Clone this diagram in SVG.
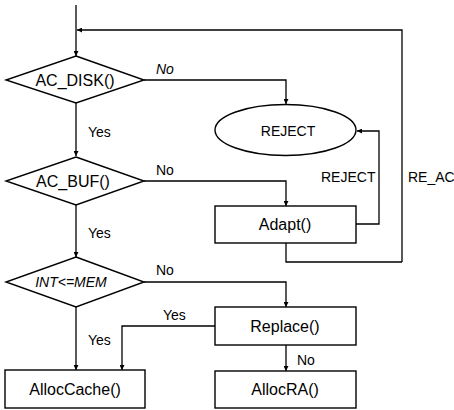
<svg xmlns="http://www.w3.org/2000/svg" width="454" height="410" viewBox="0 0 454 410">
<style>
.s{fill:#fff;stroke:#000;stroke-width:1.4}
.c{fill:none;stroke:#000;stroke-width:1.3}
text{font-family:"Liberation Sans",Arial,sans-serif;fill:#000}
.n{font-size:16px;text-anchor:middle}
.l{font-size:14px}
</style>
<defs>
<marker id="a" viewBox="0 0 10 10" refX="10" refY="5" markerWidth="5" markerHeight="5" orient="auto" markerUnits="userSpaceOnUse">
<path d="M0,0L10,5L0,10z" fill="#000"/>
</marker>
</defs>
<g id="connectors">
<path class="c" d="M76,5V56" marker-end="url(#a)"/>
<path class="c" d="M402,262V30H77" marker-end="url(#a)"/>
<path class="c" d="M286,243V262H402"/>
<path class="c" d="M144,80H286V104" marker-end="url(#a)"/>
<path class="c" d="M76,103V156" marker-end="url(#a)"/>
<path class="c" d="M144,181H286V206" marker-end="url(#a)"/>
<path class="c" d="M356,224H379V131H357" marker-end="url(#a)"/>
<path class="c" d="M76,205V257" marker-end="url(#a)"/>
<path class="c" d="M144,282H286V307" marker-end="url(#a)"/>
<path class="c" d="M76,307V370" marker-end="url(#a)"/>
<path class="c" d="M215,326H122V370" marker-end="url(#a)"/>
<path class="c" d="M286,345V371" marker-end="url(#a)"/>
<text class="l" x="156" y="74" font-style="italic">No</text>
<text class="l" x="88" y="137">Yes</text>
<text class="l" x="156" y="175">No</text>
<text class="l" x="321" y="182">REJECT</text>
<text class="l" x="408" y="182">RE_AC</text>
<text class="l" x="88" y="238">Yes</text>
<text class="l" x="156" y="275">No</text>
<text class="l" x="163" y="320">Yes</text>
<text class="l" x="88" y="345">Yes</text>
<text class="l" x="297" y="365">No</text>
</g>
<g id="ac_disk">
<path class="s" d="M76,56L144,80L76,103L6,80z"/>
<text class="n" x="75" y="86">AC_DISK()</text>
</g>
<g id="reject">
<ellipse class="s" cx="285.5" cy="130" rx="70.5" ry="25.5"/>
<text class="n" x="288" y="136" style="font-size:14px">REJECT</text>
</g>
<g id="ac_buf">
<path class="s" d="M76,157L144,181L76,205L6,181z"/>
<text class="n" x="73" y="187">AC_BUF()</text>
</g>
<g id="adapt">
<rect class="s" x="215" y="206" width="141" height="37"/>
<text class="n" x="285" y="230">Adapt()</text>
</g>
<g id="int_mem">
<path class="s" d="M76,257L144,282L76,307L6,282z"/>
<text class="n" x="71" y="287" style="font-size:14px;font-style:italic">INT&lt;=MEM</text>
</g>
<g id="replace">
<rect class="s" x="215" y="307" width="141" height="38"/>
<text class="n" x="285" y="332">Replace()</text>
</g>
<g id="alloccache">
<rect class="s" x="5" y="370" width="140" height="38"/>
<text class="n" x="75" y="395">AllocCache()</text>
</g>
<g id="allocra">
<rect class="s" x="215" y="371" width="141" height="37"/>
<text class="n" x="285" y="395">AllocRA()</text>
</g>
</svg>
